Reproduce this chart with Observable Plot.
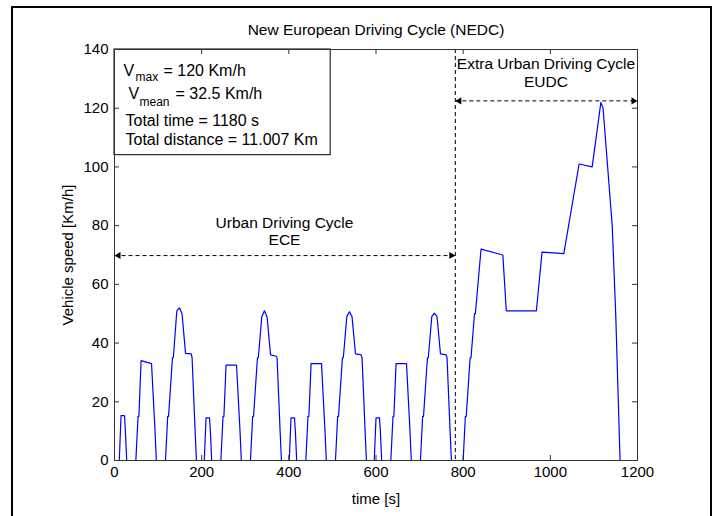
<!DOCTYPE html>
<html><head><meta charset="utf-8">
<script src="https://cdn.jsdelivr.net/npm/d3@7"></script>
<script src="https://cdn.jsdelivr.net/npm/@observablehq/plot@0.6"></script>
<style>
html,body{margin:0;padding:0;background:#fff;}
#wrap{position:relative;width:718px;height:516px;overflow:hidden;background:#fff;}
#wrap svg{position:absolute;left:0;top:0;}
#border{position:absolute;left:11px;top:6px;width:697px;height:600px;border:2px solid #000;pointer-events:none;}
</style></head><body><div id="wrap"><div id="border"></div></div>
<script>
// ---- data: NEDC speed breakpoints ----
const ece1Time  = [0,11,15,23,25,28,49,54,56,61,85,93,96,117,122,124,133,135,143,149,155,163,176,178,185,188];
const ece1Speed = [0,0,15.3,15.3,10,0,0,15,15,34,33,10,0,0,15,15,35,35,51,52,50,36.5,36.3,35,10,0];
const ece2Time  = [195,206,210,218,220,223,244,249,251,256,280,288,291,312,317,319,328,330,338,344,350,358,371,373,380,383];
const ece2Speed = [0,0,14.5,14.5,10,0,0,15,15,32.5,32.5,10,0,0,15,15,35,35,49,51,49,36,35.5,35,10,0];
const ece3Time  = [390,401,405,413,415,418,439,444,446,451,475,483,486,507,512,514,523,525,533,539,545,553,566,568,575,578];
const ece3Speed = [0,0,14.5,14.5,10,0,0,15,15,33,33,10,0,0,15,15,35,35,49,50.7,49,36.3,36,35,10,0];
const ece4Time  = [585,596,600,608,610,613,634,639,641,646,670,678,681,702,707,709,718,720,728,734,740,748,761,763,770,773];
const ece4Speed = [0,0,14.5,14.5,10,0,0,15,15,33,33,10,0,0,15,15,35,35,49,50.2,49,36.3,36,35,10,0];
const eudcTime  = [780,800,805,807,816,818,826,828,841,891,899,968,981,1031,1066,1096,1116,1121,1142,1150,1160,1180];
const eudcSpeed = [0,0,15,15,35,35,50,50,72,70,51,51,71,70.5,101,100,122,120,80,50,0,0];

const xTicks = [0,200,400,600,800,1000,1200];
const yTicks = [0,20,40,60,80,100,120,140];

const boundaryTime = [782];
const arrows = [
  {x1: 0, x2: 782, y: 69.8},
  {x1: 782, x2: 1200, y: 122.5}
];
const labels = [
  {t: 390, v: 81, text: "Urban Driving Cycle"},
  {t: 390, v: 75, text: "ECE"},
  {t: 990, v: 135.2, text: "Extra Urban Driving Cycle"},
  {t: 990, v: 128.8, text: "EUDC"}
];
const infoBox = [{x1: 0, x2: 496, y1: 104, y2: 140}];
const titleText = "New European Driving Cycle (NEDC)";

// ---- build table ----
const allTime = [...ece1Time, ...ece2Time, ...ece3Time, ...ece4Time, ...eudcTime];
const allSpeed = [...ece1Speed, ...ece2Speed, ...ece3Speed, ...ece4Speed, ...eudcSpeed];
const cycle = allTime.map((t, i) => ({t, v: allSpeed[i]}));

const heads = arrows.flatMap(a => [{x: a.x1, y: a.y, dir: -1}, {x: a.x2, y: a.y, dir: 1}]);

const frameC = "#333";
const dash = "4,3";
const boxText = (s, dx, dy, fs = 16) => Plot.text([s], {frameAnchor: "top-left", textAnchor: "start", lineAnchor: "middle", dx, dy, fontSize: fs, fill: "#000"});

const chart = Plot.plot({
  width: 718, height: 516,
  marginLeft: 114, marginRight: 81, marginTop: 49, marginBottom: 56,
  style: {fontFamily: "'Liberation Sans', Arial, sans-serif", fontSize: "15px", background: "transparent", color: "#000"},
  x: {domain: [0, 1200], ticks: xTicks, tickFormat: d => String(d), tickSize: 0, tickPadding: 6, label: "time [s]", labelAnchor: "center", labelOffset: 43, labelArrow: "none"},
  y: {domain: [0, 140], ticks: yTicks, tickFormat: d => String(d), tickSize: 0, tickPadding: 6, label: "Vehicle speed [Km/h]", labelAnchor: "center", labelOffset: 52, labelArrow: "none"},
  marks: [
    Plot.rect(infoBox, {x1: "x1", x2: "x2", y1: "y1", y2: "y2", fill: "white", stroke: "#000", strokeWidth: 1}),
    Plot.line(cycle, {x: "t", y: "v", stroke: "#0000ff", strokeWidth: 1.2}),
    Plot.ruleX(boundaryTime, {x: d => d, stroke: "#000", strokeDasharray: dash, strokeWidth: 1}),
    Plot.link(arrows, {x1: "x1", x2: "x2", y1: "y", y2: "y", stroke: "#000", strokeDasharray: dash, strokeWidth: 1}),
    Plot.dot(heads.filter(h => h.dir > 0), {x: "x", y: "y", symbol: "triangle", r: 2.6, fill: "#000", stroke: null, rotate: 90, dx: -4}),
    Plot.dot(heads.filter(h => h.dir < 0), {x: "x", y: "y", symbol: "triangle", r: 2.6, fill: "#000", stroke: null, rotate: -90, dx: 4}),
    Plot.text(labels, {x: "t", y: "v", text: "text", fill: "#000", lineAnchor: "middle", fontSize: 15.5}),
    // info box text
    boxText("V", 9, 21),
    boxText("max", 21, 28, 12),
    boxText("= 120 Km/h", 49, 21),
    boxText("V", 14, 44),
    boxText("mean", 25, 53, 12),
    boxText("= 32.5 Km/h", 61, 44),
    boxText("Total time = 1180 s", 11, 71),
    boxText("Total distance = 11.007 Km", 11, 90),
    // title
    Plot.text([titleText], {frameAnchor: "top", lineAnchor: "middle", dy: -19, fill: "#000", fontSize: 15.5}),
    // inward ticks on all four sides
    Plot.tickX(xTicks, {x: d => d, insetTop: 406, stroke: frameC}),
    Plot.tickX(xTicks, {x: d => d, insetBottom: 406, stroke: frameC}),
    Plot.tickY(yTicks, {y: d => d, insetRight: 518, stroke: frameC}),
    Plot.tickY(yTicks, {y: d => d, insetLeft: 518, stroke: frameC}),
    Plot.frame({stroke: frameC, strokeWidth: 1})
  ]
});
document.getElementById("wrap").insertBefore(chart, document.getElementById("border"));
</script>
</body></html>
